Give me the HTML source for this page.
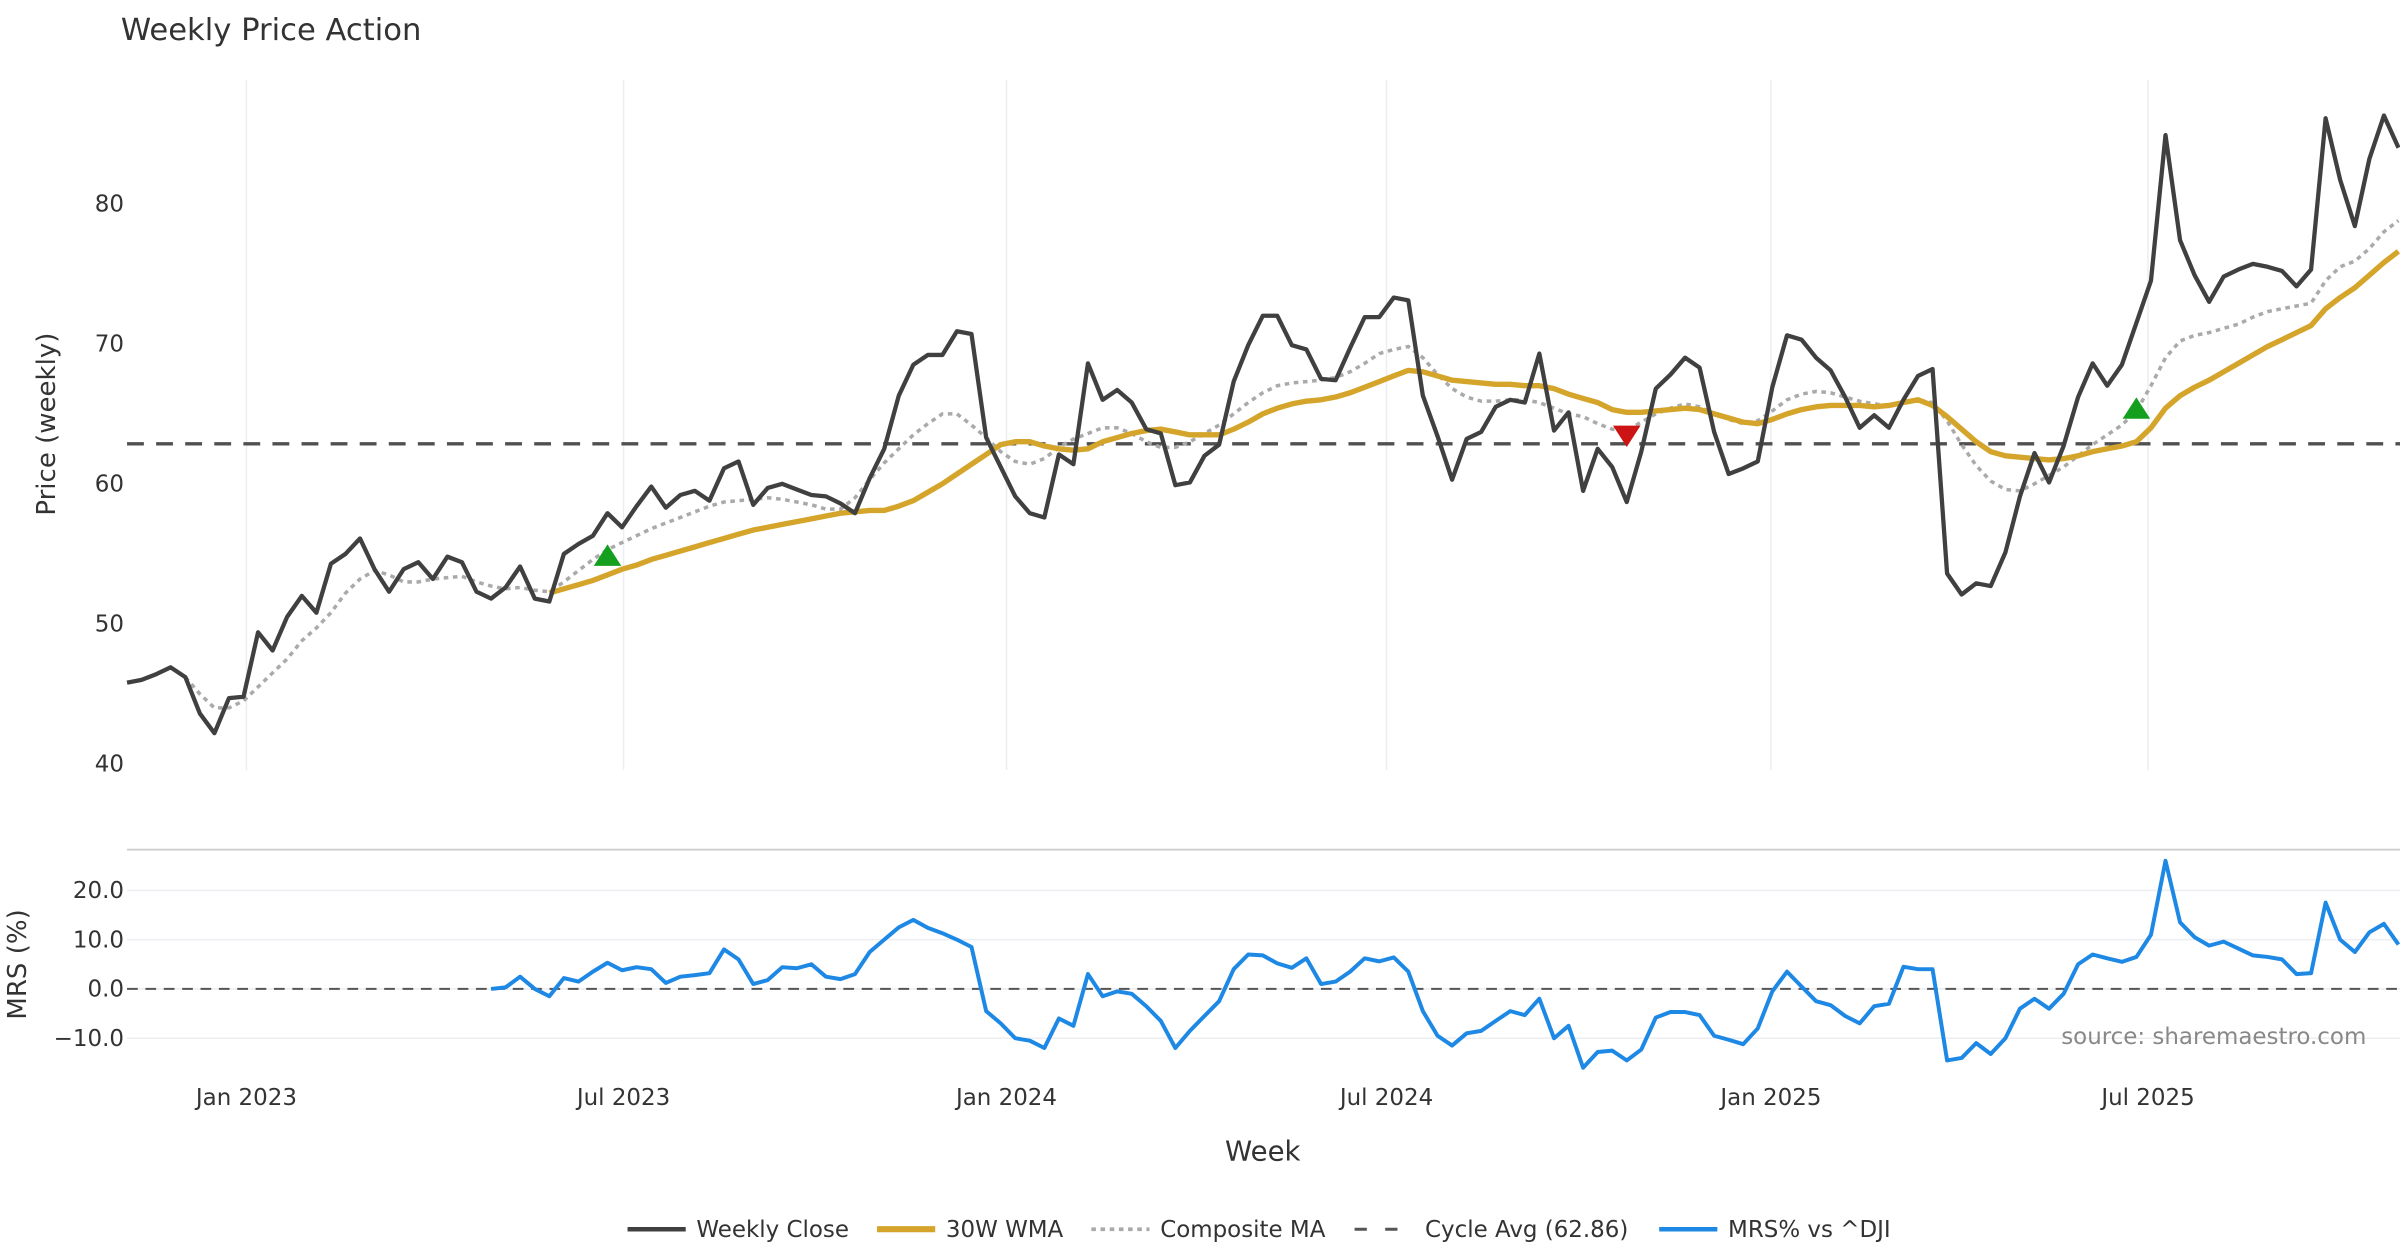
<!DOCTYPE html>
<html><head><meta charset="utf-8"><style>
html,body{margin:0;padding:0;background:#fff;}
svg{display:block;font-family:"DejaVu Sans","Liberation Sans",sans-serif;}
</style></head><body>
<svg id="chart" width="2400" height="1260" viewBox="0 0 1568 823" xmlns="http://www.w3.org/2000/svg">
<text x="79" y="26" font-size="20" fill="#333">Weekly Price Action</text>
<g id="grid"></g>
<g id="marks"></g>
<text transform="translate(36,277) rotate(-90)" text-anchor="middle" font-size="17" fill="#333">Price (weekly)</text>
<text transform="translate(17,630) rotate(-90)" text-anchor="middle" font-size="17" fill="#333">MRS (%)</text>
<text x="825" y="758" text-anchor="middle" font-size="18" fill="#333">Week</text>
<text x="1546" y="682" text-anchor="end" font-size="15" fill="#888">source: sharemaestro.com</text>
<g font-size="15" fill="#333">
<g><line x1="410" y1="803" x2="448" y2="803" stroke="#404040" stroke-width="3"/><text x="455" y="808">Weekly Close</text></g>
<g><line x1="573" y1="803" x2="611" y2="803" stroke="#D4A52A" stroke-width="4"/><text x="618" y="808">30W WMA</text></g>
<g><line x1="713" y1="803" x2="751" y2="803" stroke="#aaa" stroke-width="2.5" stroke-dasharray="3,3"/><text x="758" y="808">Composite MA</text></g>
<g><line x1="885" y1="803" x2="923" y2="803" stroke="#555" stroke-width="2" stroke-dasharray="8,12"/><text x="931" y="808">Cycle Avg (62.86)</text></g>
<g><line x1="1084" y1="803" x2="1122" y2="803" stroke="#1E88E5" stroke-width="3"/><text x="1129" y="808">MRS% vs ^DJI</text></g>
</g>
</svg>
<script>
const closeVals=[45.8,46.0,46.4,46.9,46.2,43.6,42.2,44.7,44.8,49.4,48.1,50.5,52.0,50.8,54.3,55.0,56.1,53.9,52.3,53.9,54.4,53.2,54.8,54.4,52.3,51.8,52.6,54.1,51.8,51.6,55.0,55.7,56.3,57.9,56.9,58.4,59.8,58.3,59.2,59.5,58.8,61.1,61.6,58.5,59.7,60.0,59.6,59.2,59.1,58.6,57.9,60.4,62.5,66.3,68.5,69.2,69.2,70.9,70.7,63.3,61.2,59.1,57.9,57.6,62.1,61.4,68.6,66.0,66.7,65.8,63.9,63.6,59.9,60.1,62.0,62.8,67.3,69.9,72.0,72.0,69.9,69.6,67.5,67.4,69.7,71.9,71.9,73.3,73.1,66.3,63.4,60.3,63.2,63.7,65.5,66.0,65.8,69.3,63.8,65.1,59.5,62.5,61.2,58.7,62.3,66.8,67.8,69.0,68.3,63.7,60.7,61.1,61.6,66.9,70.6,70.3,69.0,68.1,66.2,64.0,64.9,64.0,66.0,67.7,68.2,53.6,52.1,52.9,52.7,55.1,59.1,62.2,60.1,62.7,66.2,68.6,67.0,68.5,71.5,74.5,84.9,77.4,74.9,73.0,74.8,75.3,75.7,75.5,75.2,74.1,75.3,86.1,81.7,78.4,83.2,86.3,84.0];
const wmaVals=[52.2,52.5,52.8,53.1,53.5,53.9,54.2,54.6,54.9,55.2,55.5,55.8,56.1,56.4,56.7,56.9,57.1,57.3,57.5,57.7,57.9,58.0,58.1,58.1,58.4,58.8,59.4,60.0,60.7,61.4,62.1,62.8,63.0,63.0,62.7,62.5,62.4,62.5,63.0,63.3,63.6,63.8,63.9,63.7,63.5,63.5,63.5,63.9,64.4,65.0,65.4,65.7,65.9,66.0,66.2,66.5,66.9,67.3,67.7,68.1,68.0,67.7,67.4,67.3,67.2,67.1,67.1,67.0,67.0,66.8,66.4,66.1,65.8,65.3,65.1,65.1,65.2,65.3,65.4,65.3,65.0,64.7,64.4,64.3,64.6,65.0,65.3,65.5,65.6,65.6,65.6,65.5,65.6,65.8,66.0,65.6,64.8,63.9,63.0,62.3,62.0,61.9,61.8,61.7,61.8,62.0,62.3,62.5,62.7,63.0,64.0,65.4,66.3,66.9,67.4,68.0,68.6,69.2,69.8,70.3,70.8,71.3,72.5,73.3,74.0,74.9,75.8,76.6];
const compVals=[46.2,45.0,44.0,44.0,44.5,45.5,46.5,47.5,48.8,49.7,50.8,52.2,53.2,53.8,53.5,53.0,53.0,53.2,53.3,53.4,53.0,52.7,52.5,52.6,52.4,52.3,53.0,53.8,54.6,55.3,55.8,56.3,56.8,57.2,57.6,58.0,58.4,58.7,58.8,58.9,59.0,58.9,58.7,58.5,58.2,58.2,59.0,60.3,61.5,62.5,63.5,64.3,65.0,65.0,64.2,63.3,62.3,61.6,61.4,61.8,62.6,63.2,63.6,64.0,64.0,63.6,63.0,62.6,62.6,63.0,63.6,64.2,65.0,65.8,66.5,67.0,67.2,67.3,67.4,67.6,68.0,68.6,69.3,69.6,69.8,69.0,67.8,66.8,66.2,65.9,65.9,66.0,66.0,65.8,65.4,65.0,64.8,64.3,63.9,63.8,64.4,65.0,65.4,65.7,65.5,65.0,64.6,64.3,64.5,65.2,66.0,66.4,66.6,66.5,66.2,65.9,65.7,65.6,65.8,66.0,65.8,64.5,62.8,61.3,60.2,59.6,59.5,60.0,60.6,61.2,62.0,62.8,63.5,64.2,65.2,67.0,69.0,70.2,70.6,70.8,71.1,71.4,71.9,72.3,72.5,72.7,72.9,74.5,75.5,75.9,76.8,78.0,78.8];
const mrsVals=[0,0.3,2.5,0,-1.5,2.2,1.5,3.5,5.3,3.8,4.4,4,1.2,2.5,2.8,3.2,8,6,1,1.8,4.4,4.2,5,2.5,2,3,7.5,10,12.5,14,12.4,11.3,10,8.5,-4.5,-7,-10,-10.5,-12,-6,-7.5,3,-1.5,-0.5,-1,-3.5,-6.5,-12,-8.5,-5.5,-2.5,4,7,6.8,5.2,4.3,6.2,1,1.5,3.5,6.2,5.6,6.4,3.5,-4.5,-9.5,-11.5,-9,-8.5,-6.5,-4.5,-5.3,-2,-10,-7.5,-16,-12.8,-12.5,-14.5,-12.3,-5.8,-4.7,-4.7,-5.3,-9.5,-10.3,-11.2,-8,-0.5,3.5,0.5,-2.5,-3.3,-5.5,-7,-3.5,-3,4.5,4,4,-14.5,-14,-11,-13.2,-10,-4,-2,-4,-1,5,7,6.2,5.5,6.5,11,26,13.5,10.5,8.8,9.6,8.2,6.8,6.5,6,3,3.2,17.5,10,7.5,11.5,13.2,9];
const cycleAvg=62.86;
const buyIdx=[33,138], buyPrice=[54.8,65.3];
const sellIdx=[103], sellPrice=[63.5];
const priceTicks=[40,50,60,70,80];
const mrsTicks=[20,10,0,-10];
const mrsTickLabels=["20.0","10.0","0.0","−10.0"];
const dateTickIdx=[8.2,34.1,60.4,86.5,112.9,138.8];
const dateTickLabels=["Jan 2023","Jul 2023","Jan 2024","Jul 2024","Jan 2025","Jul 2025"];

const N=closeVals.length;
const X0=83, X1=1567;
const xs=i=>X0+i*(X1-X0)/(N-1);
const yP=v=>499-(v-40)*9.15;
const yM=v=>646-v*3.22;
const NS="http://www.w3.org/2000/svg";
const grid=document.getElementById('grid'), marks=document.getElementById('marks');
function mk(tag,attrs,parent){const e=document.createElementNS(NS,tag);for(const k in attrs)e.setAttribute(k,attrs[k]);parent.appendChild(e);return e;}

// vertical grid + date labels
dateTickIdx.forEach((d,k)=>{
  const x=xs(d);
  const g1=mk('line',{x1:x,x2:x,y1:52,y2:503,stroke:'#eceef2','stroke-width':1},grid);
  
  
  const t=mk('text',{x:x,y:722,'text-anchor':'middle','font-size':15,fill:'#333'},grid);
  t.textContent=dateTickLabels[k];
  
  
});
priceTicks.forEach(v=>{
  const t=mk('text',{x:81,y:yP(v)+5,'text-anchor':'end','font-size':15,fill:'#333'},grid);
  t.textContent=v;
  
  
});
mrsTicks.forEach((v,k)=>{
  const l=mk('line',{x1:83,x2:1568,y1:yM(v),y2:yM(v),stroke:'#eceef2','stroke-width':1},grid);
  
  
  const t=mk('text',{x:81,y:yM(v)+5,'text-anchor':'end','font-size':15,fill:'#333'},grid);
  t.textContent=mrsTickLabels[k];
  
  
});
const sep=mk('line',{x1:83,x2:1568,y1:555,y2:555,stroke:'#ccc','stroke-width':1.2},grid);


const z=mk('line',{x1:83,x2:1568,y1:yM(0),y2:yM(0),stroke:'#555','stroke-width':1.3,'stroke-dasharray':'7,5'},grid);



function path(vals,start,yf){return vals.map((v,i)=>(i?'L':'M')+xs(start+i).toFixed(1)+','+yf(v).toFixed(1)).join(' ');}

const cyc=mk('line',{x1:83,x2:1568,y1:yP(cycleAvg),y2:yP(cycleAvg),stroke:'#505050','stroke-width':2.2,'stroke-dasharray':'11,8'},marks);


const comp=mk('path',{d:path(compVals,N-compVals.length,yP),fill:'none',stroke:'#aaa','stroke-width':2.3,'stroke-dasharray':'3,3'},marks);


const wma=mk('path',{d:path(wmaVals,N-wmaVals.length,yP),fill:'none',stroke:'#D4A52A','stroke-width':3.5,'stroke-linejoin':'round'},marks);


const cl=mk('path',{d:path(closeVals,0,yP),fill:'none',stroke:'#404040','stroke-width':2.8,'stroke-linejoin':'round'},marks);


const mrs=mk('path',{d:path(mrsVals,N-mrsVals.length,yM),fill:'none',stroke:'#1E88E5','stroke-width':2.6,'stroke-linejoin':'round'},marks);


buyIdx.forEach((b,k)=>{
  const x=xs(b),y=yP(buyPrice[k]);
  const t=mk('polygon',{points:`${x-9},${y+6} ${x+9},${y+6} ${x},${y-8}`,fill:'#14A01E'},marks);
  
  
});
sellIdx.forEach((b,k)=>{
  const x=xs(b),y=yP(sellPrice[k]);
  const t=mk('polygon',{points:`${x-9},${y-6} ${x+9},${y-6} ${x},${y+8}`,fill:'#CC1414'},marks);
  
  
});
</script>
</body></html>
